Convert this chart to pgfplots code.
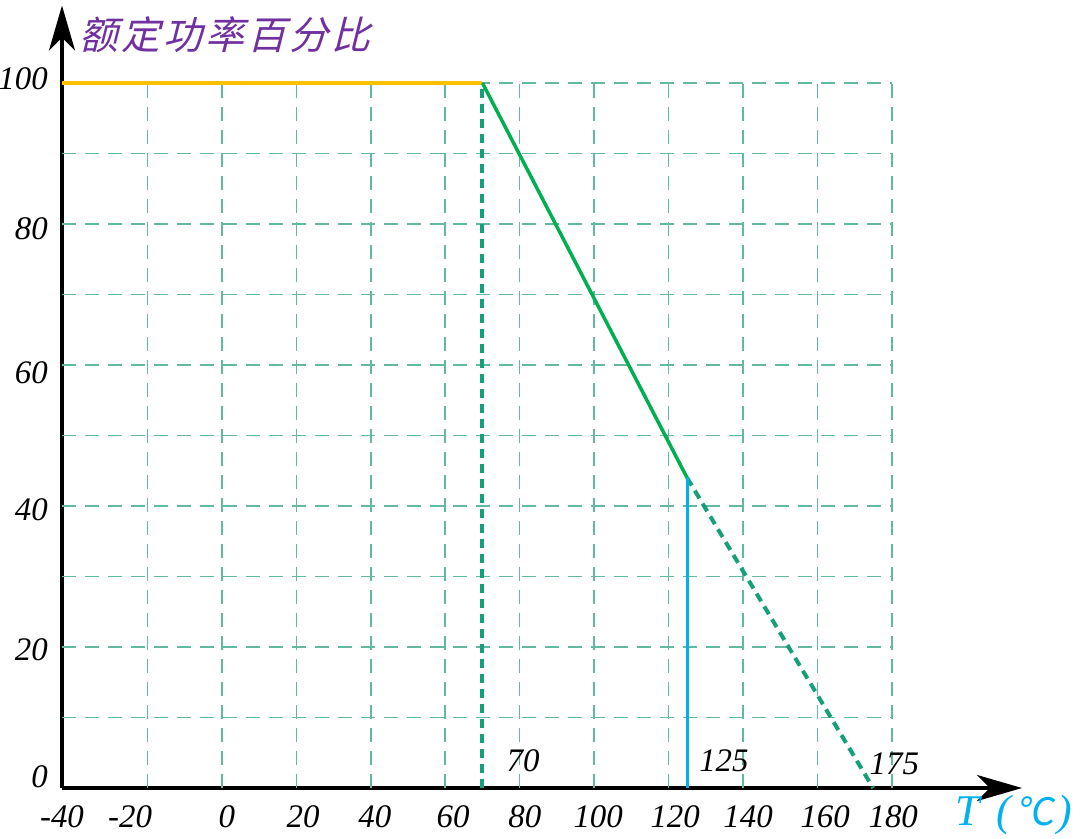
\documentclass[border=0pt]{standalone}
\usepackage{fontspec}
\setmainfont{Liberation Serif}
\newfontfamily\cjk[FakeSlant=0.25,LetterSpace=8]{Noto Sans CJK SC}
\newfontfamily\cjkunit[FakeSlant=0.15]{Noto Sans CJK SC}
\usepackage{pgfplots}
\pgfplotsset{compat=1.18}
\usetikzlibrary{arrows.meta}

\definecolor{gridc}{HTML}{62B8A0}
\definecolor{dashc}{HTML}{16A07A}
\definecolor{lineg}{HTML}{00B050}
\definecolor{lineo}{HTML}{FFC000}
\definecolor{lineb}{HTML}{00B0F0}
\definecolor{titlec}{HTML}{7030A0}

\begin{document}
\begin{tikzpicture}
\path[use as bounding box] (0,0) rectangle (1080bp,-839bp);
\begin{axis}[
    at={(62bp,-788bp)}, anchor=south west,
    scale only axis,
    width=960bp, height=782.5bp,
    xmin=-43, xmax=215,
    ymin=0, ymax=111,
    axis lines=left,
    x axis line style={line width=3.5bp, -{Stealth[length=45bp,width=26bp,inset=13bp]}},
    y axis line style={line width=3.5bp, -{Stealth[length=45bp,width=26bp,inset=13bp]}},
    clip=false,
    major tick length=0pt,
    xtick={-43,-24.7,1.3,21.8,41.1,62.1,81.4,101.1,121.8,141.4,162.1,180.4},
    xticklabels={-40,-20,0,20,40,60,80,100,120,140,160,180},
    ytick={1,19.1,38.9,58.3,78.7,100},
    yticklabels={0,20,40,60,80,100},
    tick label style={font=\fontsize{33}{33}\selectfont\itshape, inner sep=0pt},
    xticklabel style={anchor=north, yshift=-17bp},
    yticklabel style={anchor=east, xshift=-14bp, yshift=4bp},
    ]
    % grid
    \pgfplotsinvokeforeach{-20,0,20,40,60,80,100,120,140,160,180}{
        \draw[gridc, line width=1.6bp, dash pattern=on 14bp off 9bp] (axis cs:#1,0) -- (axis cs:#1,100);
    }
    \pgfplotsinvokeforeach{10,20,30,40,50,60,70,80,90,100}{
        \draw[gridc, line width=1.6bp, dash pattern=on 14bp off 9bp] (axis cs:-43,#1) -- (axis cs:180,#1);
    }
    % derating curve
    \addplot[lineo, line width=4bp] coordinates {(-43,100) (70,100)};
    \addplot[dashc, line width=4bp, dash pattern=on 9bp off 6bp] coordinates {(70,0) (70,100)};
    \addplot[lineg, line width=3.5bp] coordinates {(70,100) (125,44)};
    \addplot[dashc, line width=4bp, dash pattern=on 9bp off 6bp] coordinates {(125,44) (175,0)};
    \addplot[lineb, line width=3bp] coordinates {(125,0) (125,44)};
    % annotations
    \node[font=\fontsize{33}{33}\selectfont\itshape, inner sep=0pt] at (axis cs:80.9,3.8) {70};
    \node[font=\fontsize{33}{33}\selectfont\itshape, inner sep=0pt] at (axis cs:134.9,3.8) {125};
    \node[font=\fontsize{33}{33}\selectfont\itshape, inner sep=0pt] at (axis cs:180.7,3.4) {175};
    \node[titlec, font=\fontsize{39}{39}\selectfont\cjk, inner sep=0pt] at (axis cs:0.8,106.8) {额定功率百分比};
    \node[lineb, font=\fontsize{44}{44}\selectfont, inner sep=0pt] at (axis cs:212.8,-3.8)
        {\textit{T}\hspace{14bp}\textit{(}\hspace{3bp}{\cjkunit\fontsize{38}{38}\selectfont ℃}\hspace{4bp}\textit{)}};
\end{axis}
\end{tikzpicture}
\end{document}
